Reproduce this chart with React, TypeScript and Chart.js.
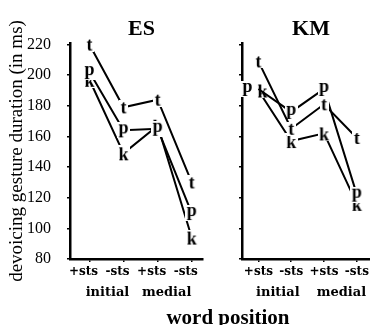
import React, { useEffect, useRef } from "react";
import { Chart, registerables } from "chart.js";

Chart.register(...registerables);

// ---- data ----
const positions = ["+sts", "-sts", "+sts", "-sts"];
const groups = ["initial", "medial"];
const consonants = ["t", "p", "k"];
const yTicks = [80, 100, 120, 140, 160, 180, 200, 220];

const esT = [220, 179, 184, 130];
const esP = [202, 164, 165, 110];
const esK = [197, 149, 167, 94];

const kmT = [209, 165, 181, 159];
const kmP = [191, 176, 191, 122];
const kmK = [190, 157, 162, 116];

const yLabel = "devoicing gesture duration (in ms)";
const xLabel = "word position";

// ---- helpers ----
const markerFont = "bold 18px 'Liberation Serif'";

function makeMarker(ch: string, shiftX = 0): HTMLCanvasElement {
  const probe = document.createElement("canvas").getContext("2d")!;
  probe.font = markerFont;
  const m = probe.measureText(ch);
  const gw = Math.ceil(m.actualBoundingBoxLeft + m.actualBoundingBoxRight) + 3;
  const gh = Math.ceil(m.actualBoundingBoxAscent + m.actualBoundingBoxDescent) + 3;
  const pad = Math.ceil(Math.abs(shiftX));
  const c = document.createElement("canvas");
  c.width = gw + 2 * pad;
  c.height = gh;
  const ctx = c.getContext("2d")!;
  ctx.font = markerFont;
  const bx = pad + shiftX;
  ctx.fillStyle = "#fff";
  ctx.fillRect(bx, 0, gw, gh);
  ctx.fillStyle = "#000";
  ctx.textBaseline = "alphabetic";
  ctx.fillText(ch, bx + 1.5 + m.actualBoundingBoxLeft, 1.5 + m.actualBoundingBoxAscent);
  return c;
}

const panelPlugin = {
  id: "panelText",
  afterDraw(chart: any, _args: any, opts: any) {
    const ctx = chart.ctx;
    const xs = chart.scales.x;
    const area = chart.chartArea;
    ctx.save();
    ctx.fillStyle = "#000";
    ctx.textAlign = "center";
    ctx.textBaseline = "middle";
    ctx.font = "bold 22px 'Liberation Serif'";
    ctx.fillText(opts.title, (area.left + area.right) / 2 + opts.titleDx, 29);
    ctx.font = "bold 13px 'DejaVu Serif'";
    groups.forEach((g, i) => {
      const cx =
        (xs.getPixelForValue(2 * i) + xs.getPixelForValue(2 * i + 1)) / 2 +
        opts.groupDx[i];
      ctx.fillText(g, cx, 293);
    });
    ctx.restore();
  },
};

function buildConfig(
  title: string,
  series: number[][],
  isLeft: boolean,
  xMin: number,
  xMax: number,
  yWidth: number,
  labelOffset: number,
  titleDx: number,
  groupDx: number[],
  shifts: Record<string, number[]>
): any {
  return {
    type: "line",
    data: {
      datasets: series.map((vals, si) => {
        const ch = consonants[si];
        const sh = shifts[ch] || [0, 0, 0, 0];
        const markers = vals.map((_, i) => makeMarker(ch, sh[i] || 0));
        return {
          label: ch,
          data: vals.map((y, i) => ({ x: i, y })),
          borderColor: "#000",
          backgroundColor: "#000",
          borderWidth: 2,
          pointStyle: markers,
          pointRadius: 6,
          tension: 0,
          clip: false,
        };
      }),
    },
    options: {
      animation: false,
      responsive: false,
      maintainAspectRatio: false,
      layout: {
        autoPadding: false,
        padding: { top: 43, right: isLeft ? 2 : 0, left: 0, bottom: 0 },
      },
      plugins: {
        legend: { display: false },
        tooltip: { enabled: false },
        panelText: { title, titleDx, groupDx },
      },
      scales: {
        x: {
          type: "linear",
          min: xMin,
          max: xMax,
          afterBuildTicks: (s: any) => {
            s.ticks = positions.map((_, i) => ({ value: i }));
          },
          afterFit: (s: any) => {
            s.height = 66;
            s.paddingLeft = 0;
            s.paddingRight = 0;
          },
          ticks: {
            callback: (v: any) => positions[v] ?? "",
            color: "#000",
            font: { family: "'DejaVu Serif'", size: 12, weight: "bold" },
            padding: 3,
            labelOffset,
            autoSkip: false,
            maxRotation: 0,
          },
          grid: {
            display: true,
            drawOnChartArea: false,
            drawTicks: true,
            tickLength: 3,
            color: "#000",
            lineWidth: 1.5,
          },
          border: { display: true, color: "#000", width: 2.5 },
        },
        y: {
          min: 80,
          max: 221,
          afterBuildTicks: (s: any) => {
            s.ticks = yTicks.map((v) => ({ value: v }));
          },
          afterFit: (s: any) => {
            s.width = yWidth;
            s.paddingTop = 0;
            s.paddingBottom = 0;
          },
          ticks: {
            display: isLeft,
            color: "#000",
            font: { family: "'Liberation Serif'", size: 16 },
            padding: 16,
          },
          grid: {
            display: true,
            drawOnChartArea: false,
            drawTicks: true,
            tickLength: 3,
            color: "#000",
            lineWidth: 1.5,
          },
          border: { display: true, color: "#000", width: 2.5 },
          title: {
            display: isLeft,
            text: yLabel,
            color: "#000",
            font: { family: "'Liberation Serif'", size: 19 },
            padding: { top: 6, bottom: 0 },
          },
        },
      },
    },
    plugins: [panelPlugin],
  };
}

export default function App() {
  const leftRef = useRef<HTMLCanvasElement | null>(null);
  const rightRef = useRef<HTMLCanvasElement | null>(null);

  useEffect(() => {
    const c1 = new Chart(
      leftRef.current!,
      buildConfig("ES", [esT, esP, esK], true, -0.57, 3.33, 70, -6, 5, [1, -8], {})
    );
    const c2 = new Chart(
      rightRef.current!,
      buildConfig("KM", [kmT, kmP, kmK], false, -0.5, 3.4, 37, 0, 5, [3, 1], {
        p: [-11, 0, 0, 0],
        k: [4, 0, 0, 0],
      })
    );
    return () => {
      c1.destroy();
      c2.destroy();
    };
  }, []);

  return (
    <div
      style={{
        position: "absolute",
        left: 0,
        top: 0,
        width: 370,
        height: 325,
        background: "#fff",
        overflow: "hidden",
      }}
    >
      <canvas
        ref={leftRef}
        width={205}
        height={325}
        style={{ position: "absolute", left: 0, top: 0, width: 205, height: 325 }}
      />
      <canvas
        ref={rightRef}
        width={165}
        height={325}
        style={{ position: "absolute", left: 205, top: 0, width: 165, height: 325 }}
      />
      <div
        style={{
          position: "absolute",
          left: 128,
          top: 305,
          width: 200,
          textAlign: "center",
          fontFamily: "'Liberation Serif'",
          fontWeight: "bold",
          fontSize: 21,
          lineHeight: "24px",
          color: "#000",
          whiteSpace: "nowrap",
        }}
      >
        {xLabel}
      </div>
    </div>
  );
}
